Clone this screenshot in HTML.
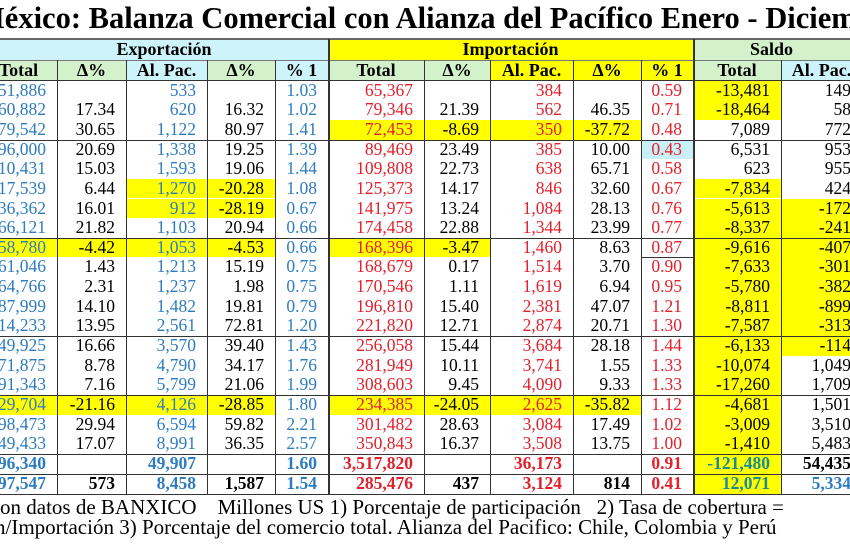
<!DOCTYPE html>
<html><head><meta charset="utf-8"><style>
*{margin:0;padding:0;box-sizing:border-box}
body{width:850px;height:550px;overflow:hidden;background:#fff;position:relative;font-family:"Liberation Serif",serif}
.t{position:absolute;left:-24px;top:1px;font-size:30.5px;font-weight:bold;white-space:nowrap;color:#000}
.c{position:absolute;height:19.65px;line-height:19.65px;font-size:17.5px;text-align:right;padding-right:11px;white-space:nowrap}
.h{position:absolute;font-weight:bold;font-size:18px;text-align:center;line-height:20px;height:20px}
.v{position:absolute;width:1px;background:#333}
.hl{position:absolute;height:1px;background:#333}
.f{position:absolute;left:0;font-size:21px;white-space:nowrap;color:#000;line-height:22px}
</style></head><body>
<div class="t">México: Balanza Comercial con Alianza del Pacífico Enero - Diciembre</div>
<div id="tb" style="position:absolute;left:0;top:0;width:850px;height:550px;overflow:hidden"></div>
<div class="f" style="top:496px">on datos de BANXICO &nbsp;&nbsp;&nbsp;Millones US 1) Porcentaje de participación &nbsp;&nbsp;2) Tasa de cobertura =</div>
<div class="f" style="top:516px;left:-5px">n/Importación 3) Porcentaje del comercio total. Alianza del Pacifico: Chile, Colombia y Perú</div>
<script>
var X=[-20,57,126,207,275,328,424,490,573,641,693,781,862];
var G='#d3f1cb',C='#cdf4fa',Y='#ffff00',LC='#c8f0f6';
var tb=document.getElementById('tb'),h='';
function box(x,y,w,hh,bg){h+='<div style="position:absolute;left:'+x+'px;top:'+y+'px;width:'+w+'px;height:'+hh+'px;background:'+bg+'"></div>';}
box(0,39,328,21,C);box(328,39,365,21,Y);box(693,39,157,21,G);
var hc=[G,G,C,G,C,G,G,Y,Y,Y,G,C];
var ht=['Total','Δ%','Al. Pac.','Δ%','% 1','Total','Δ%','Al. Pac.','Δ%','% 1','Total','Al. Pac.'];
for(var i=0;i<12;i++){box(X[i],60,X[i+1]-X[i],20,hc[i]);}
h+='<div class="h" style="left:0;top:39px;width:328px">Exportación</div>';
h+='<div class="h" style="left:328px;top:39px;width:365px">Importación</div>';
h+='<div class="h" style="left:693px;top:39px;width:157px">Saldo</div>';
for(var i=0;i<12;i++)h+='<div class="h" style="left:'+X[i]+'px;top:60px;width:'+(X[i+1]-X[i])+'px">'+ht[i]+'</div>';
var R=[
['51,886','','533','','1.03','65,367','','384','','0.59','-13,481','149'],
['60,882','17.34','620','16.32','1.02','79,346','21.39','562','46.35','0.71','-18,464','58'],
['79,542','30.65','1,122','80.97','1.41','72,453','-8.69','350','-37.72','0.48','7,089','772'],
['96,000','20.69','1,338','19.25','1.39','89,469','23.49','385','10.00','0.43','6,531','953'],
['10,431','15.03','1,593','19.06','1.44','109,808','22.73','638','65.71','0.58','623','955'],
['17,539','6.44','1,270','-20.28','1.08','125,373','14.17','846','32.60','0.67','-7,834','424'],
['36,362','16.01','912','-28.19','0.67','141,975','13.24','1,084','28.13','0.76','-5,613','-172'],
['66,121','21.82','1,103','20.94','0.66','174,458','22.88','1,344','23.99','0.77','-8,337','-241'],
['58,780','-4.42','1,053','-4.53','0.66','168,396','-3.47','1,460','8.63','0.87','-9,616','-407'],
['61,046','1.43','1,213','15.19','0.75','168,679','0.17','1,514','3.70','0.90','-7,633','-301'],
['64,766','2.31','1,237','1.98','0.75','170,546','1.11','1,619','6.94','0.95','-5,780','-382'],
['87,999','14.10','1,482','19.81','0.79','196,810','15.40','2,381','47.07','1.21','-8,811','-899'],
['14,233','13.95','2,561','72.81','1.20','221,820','12.71','2,874','20.71','1.30','-7,587','-313'],
['49,925','16.66','3,570','39.40','1.43','256,058','15.44','3,684','28.18','1.44','-6,133','-114'],
['71,875','8.78','4,790','34.17','1.76','281,949','10.11','3,741','1.55','1.33','-10,074','1,049'],
['91,343','7.16','5,799','21.06','1.99','308,603','9.45','4,090','9.33','1.33','-17,260','1,709'],
['29,704','-21.16','4,126','-28.85','1.80','234,385','-24.05','2,625','-35.82','1.12','-4,681','1,501'],
['98,473','29.94','6,594','59.82','2.21','301,482','28.63','3,084','17.49','1.02','-3,009','3,510'],
['49,433','17.07','8,991','36.35','2.57','350,843','16.37','3,508','13.75','1.00','-1,410','5,483'],
['96,340','','49,907','','1.60','3,517,820','','36,173','','0.91','-121,480','54,435'],
['97,547','573','8,458','1,587','1.54','285,476','437','3,124','814','0.41','12,071','5,334']];
var B='#2e7cc0',RD='#e3202b',K='#000',TL='#1a8c96';
var col=[B,K,B,K,B,RD,K,RD,K,RD,K,K];
var P=19.65,T0=80.6;
function rtop(r){return r<19?T0+r*P:(r==19?454:474);}
function rh(r){return r<19?P:20;}
function hlc(r,c,bg){box(X[c],rtop(r),X[c+1]-X[c],rh(r),bg);}
[5,6].forEach(function(r){hlc(r,2,Y);hlc(r,3,Y);});
[8,16].forEach(function(r){[0,1,2,3].forEach(function(c){hlc(r,c,Y);});});
[2,16].forEach(function(r){[5,6,7,8].forEach(function(c){hlc(r,c,Y);});});
hlc(3,9,LC);hlc(8,5,Y);hlc(8,6,Y);
[0,1,5,6,7,8,9,10,11,12,13,14,15,16,17,18,19,20].forEach(function(r){hlc(r,10,Y);});
[6,7,8,9,10,11,12,13].forEach(function(r){hlc(r,11,Y);});
for(var r=0;r<21;r++){for(var c=0;c<12;c++){
 var v=R[r][c];if(!v)continue;var cl=col[c];var st='';
 if(r>=19){st='font-weight:bold;';}
 if(r>=19&&c==10)cl=TL;
 if(r==20&&c==11)cl=B;
 h+='<div class="c" style="'+st+'left:'+X[c]+'px;top:'+rtop(r)+'px;width:'+(X[c+1]-X[c])+'px;color:'+cl+'">'+v+'</div>';}}
h+='<div class="hl" style="left:0;top:38px;width:850px;height:2px;background:#666"></div>';
h+='<div class="hl" style="left:0;top:60px;width:850px;background:#777"></div>';
h+='<div class="hl" style="left:0;top:80px;width:850px"></div>';
[3,8,13,16].forEach(function(r){h+='<div class="hl" style="left:0;top:'+Math.round(T0+r*P)+'px;width:850px"></div>';});
h+='<div class="hl" style="left:0;top:454px;width:850px"></div><div class="hl" style="left:0;top:474px;width:850px"></div><div class="hl" style="left:0;top:494px;width:850px"></div>';
h+='<div class="hl" style="left:641px;top:'+Math.round(T0+9*P)+'px;width:52px"></div>';
for(var i=1;i<12;i++){var w=(i==5||i==10)?2:1;var y0=(i==5||i==10)?39:60;h+='<div class="v" style="left:'+X[i]+'px;top:'+y0+'px;height:'+(494-y0)+'px;width:'+w+'px"></div>';}
tb.innerHTML=h;
</script>
</body></html>
